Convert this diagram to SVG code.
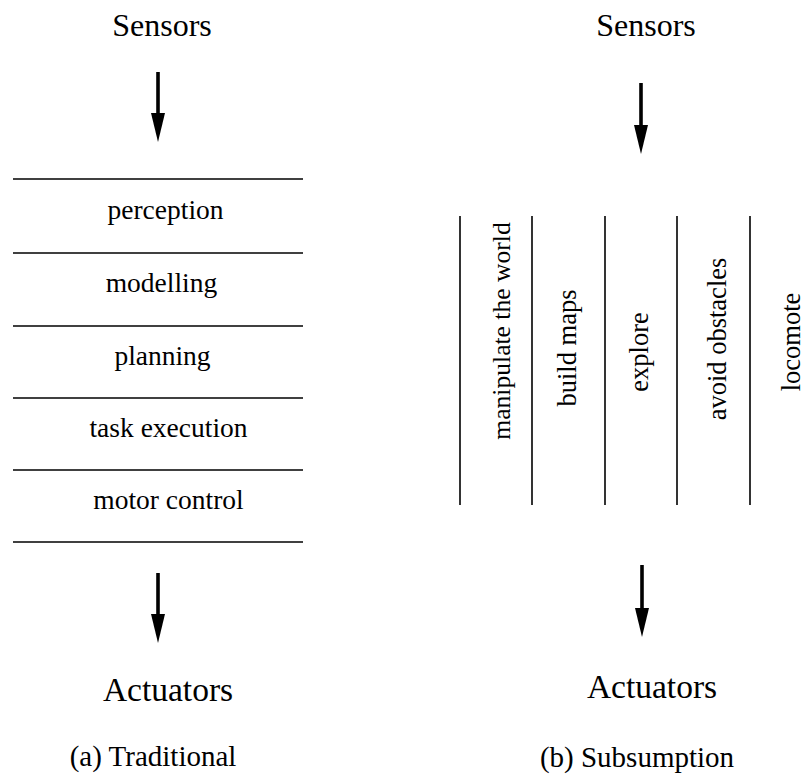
<svg xmlns="http://www.w3.org/2000/svg" width="812" height="775" viewBox="0 0 812 775">
<style>
  text { font-family: "Liberation Serif", "Times New Roman", serif; fill: #000; text-anchor: middle; }
  .big { font-size: 32px; }
  .act { font-size: 33.5px; }
  .layer { font-size: 27.5px; }
  .vert { font-size: 26.5px; }
  .cap { font-size: 29px; }
  .rule { stroke: #000; stroke-width: 1.6; fill: none; }
  .arrow { stroke: #000; stroke-width: 3.6; fill: none; marker-end: url(#head); }
</style>
<defs>
  <marker id="head" markerUnits="userSpaceOnUse" markerWidth="30" markerHeight="14" refX="2" refY="7" orient="auto" viewBox="0 0 30 14">
    <path d="M0,0 L29,7 L0,14 z" fill="#000"/>
  </marker>
</defs>
<rect width="812" height="775" fill="#fff"/>

<g id="connectors">
  <line class="arrow" x1="158" y1="72" x2="158" y2="115"/>
  <line class="arrow" x1="158" y1="573" x2="158" y2="616"/>
  <line class="arrow" x1="641" y1="83" x2="641" y2="127"/>
  <line class="arrow" x1="642" y1="565" x2="642" y2="610"/>
</g>

<g id="traditional">
  <g id="sensors-a"><text class="big" x="162" y="36">Sensors</text></g>
  <g id="stack-rules">
    <line class="rule" x1="13" y1="179" x2="303" y2="179"/>
    <line class="rule" x1="13" y1="253" x2="303" y2="253"/>
    <line class="rule" x1="13" y1="326" x2="303" y2="326"/>
    <line class="rule" x1="13" y1="398" x2="303" y2="398"/>
    <line class="rule" x1="13" y1="470" x2="303" y2="470"/>
    <line class="rule" x1="13" y1="542" x2="303" y2="542"/>
  </g>
  <g id="perception"><text class="layer" x="165.5" y="219">perception</text></g>
  <g id="modelling"><text class="layer" x="161.5" y="292">modelling</text></g>
  <g id="planning"><text class="layer" x="162.5" y="365">planning</text></g>
  <g id="task-execution"><text class="layer" x="168.5" y="437">task execution</text></g>
  <g id="motor-control"><text class="layer" x="168.5" y="509">motor control</text></g>
  <g id="actuators-a"><text class="act" x="168" y="701">Actuators</text></g>
  <g id="caption-a"><text class="cap" x="153" y="766">(a) Traditional</text></g>
</g>

<g id="subsumption">
  <g id="sensors-b"><text class="big" x="646" y="36">Sensors</text></g>
  <g id="column-rules">
    <line class="rule" x1="460" y1="216" x2="460" y2="505"/>
    <line class="rule" x1="532" y1="216" x2="532" y2="505"/>
    <line class="rule" x1="605" y1="216" x2="605" y2="505"/>
    <line class="rule" x1="677" y1="216" x2="677" y2="505"/>
    <line class="rule" x1="750" y1="216" x2="750" y2="505"/>
  </g>
  <g id="manipulate-the-world"><text class="vert" style="font-size:25.6px" transform="translate(510,331) rotate(-90)">manipulate the world</text></g>
  <g id="build-maps"><text class="vert" transform="translate(576,348) rotate(-90)">build maps</text></g>
  <g id="explore"><text class="vert" transform="translate(648,352) rotate(-90)">explore</text></g>
  <g id="avoid-obstacles"><text class="vert" transform="translate(726,339) rotate(-90)">avoid obstacles</text></g>
  <g id="locomote"><text class="vert" transform="translate(800,342) rotate(-90)">locomote</text></g>
  <g id="actuators-b"><text class="act" x="652" y="698">Actuators</text></g>
  <g id="caption-b"><text class="cap" x="637" y="767">(b) Subsumption</text></g>
</g>
</svg>
